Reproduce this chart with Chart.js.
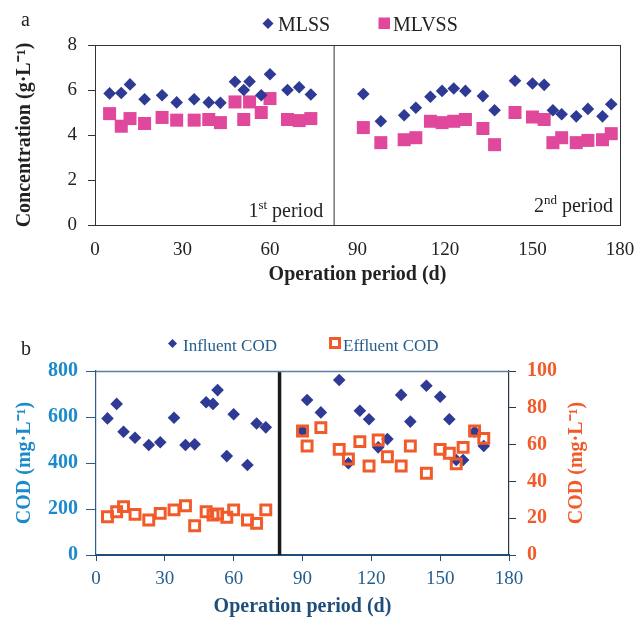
<!DOCTYPE html>
<html>
<head>
<meta charset="utf-8">
<script src="https://cdn.jsdelivr.net/npm/chart.js@4.4.1/dist/chart.umd.min.js"></script>
<style>
  html, body { margin: 0; padding: 0; background: #fff; }
  #wrap { position: relative; width: 637px; height: 620px; }
  #chartA { position: absolute; left: 0; top: 0; }
  #chartB { position: absolute; left: 0; top: 300px; }
</style>
</head>
<body>
<div id="wrap">
  <canvas id="chartA" width="637" height="300"></canvas>
  <canvas id="chartB" width="637" height="320"></canvas>
</div>
<script>
// (a) MLSS / MLVSS, g/L
const daysA = [5, 9, 12, 17, 23, 28, 34, 39, 43, 48, 51, 53, 57, 60, 66, 70, 74,
  92, 98, 106, 110, 115, 119, 123, 127, 133, 137, 144, 150, 154, 157, 160, 165, 169, 174, 177];
const mlss = [5.85, 5.87, 6.25, 5.59, 5.77, 5.45, 5.59, 5.45, 5.43, 6.37, 6.0, 6.38, 5.77, 6.7, 6.0, 6.12, 5.8,
  5.82, 4.61, 4.88, 5.21, 5.70, 5.96, 6.07, 5.96, 5.73, 5.10, 6.41, 6.29, 6.23, 5.10, 4.92, 4.83, 5.16, 4.83, 5.37];
const mlvss = [4.95, 4.39, 4.73, 4.51, 4.78, 4.66, 4.66, 4.69, 4.55, 5.47, 4.69, 5.47, 5.0, 5.62, 4.69, 4.64, 4.73,
  4.33, 3.66, 3.79, 3.88, 4.61, 4.55, 4.61, 4.69, 4.29, 3.57, 5.0, 4.80, 4.69, 3.66, 3.88, 3.66, 3.76, 3.79, 4.06];
const dividerA = 82;

// (b) COD, mg/L
const daysB = [5, 9, 12, 17, 23, 28, 34, 39, 43, 48, 51, 53, 57, 60, 66, 70, 74,
  90, 92, 98, 106, 110, 115, 119, 123, 127, 133, 137, 144, 150, 154, 157, 160, 165, 169];
const influent = [594, 657, 536, 510, 478, 490, 597, 478, 481, 664, 657, 717, 430, 612, 391, 572, 555,
  539, 674, 620, 761, 399, 627, 590, 468, 504, 696, 580, 736, 688, 590, 413, 413, 536, 474];
const effluent = [20.8, 23.5, 26.3, 22.1, 19.0, 22.6, 24.5, 26.8, 15.9, 23.5, 21.7, 22.3, 20.5, 24.5, 19.0, 17.2, 24.5,
  67.4, 59.2, 69.2, 57.4, 52.2, 61.6, 48.4, 62.5, 53.4, 48.4, 59.2, 44.4, 57.4, 55.3, 49.5, 58.5, 67.4, 63.4];
const dividerB = 80;

const SERIF = '"Liberation Serif", "Times New Roman", serif';
const NAVY = '#2E3A94';
const PINK = '#E0489B';
const ORANGE = '#F15A29';
const BLUE = '#1B8ACB';
const DARKBLUE = '#235D8C';

function toPoints(xs, ys) {
  return xs.map((x, i) => ({ x: x, y: ys[i] }));
}

// text with a superscript part, e.g. 1st
function drawSupText(ctx, parts, xRight, baseline, size, color) {
  const big = size + 'px ' + SERIF;
  const small = Math.round(size * 0.65) + 'px ' + SERIF;
  let total = 0;
  parts.forEach(p => { ctx.font = p[1] ? small : big; total += ctx.measureText(p[0]).width; });
  let x = xRight - total;
  ctx.fillStyle = color;
  ctx.textAlign = 'left';
  ctx.textBaseline = 'alphabetic';
  parts.forEach(p => {
    ctx.font = p[1] ? small : big;
    ctx.fillText(p[0], x, p[1] ? baseline - size * 0.38 : baseline);
    x += ctx.measureText(p[0]).width;
  });
}

function diamond(ctx, x, y, r, color) {
  ctx.beginPath();
  ctx.moveTo(x, y - r); ctx.lineTo(x + r, y); ctx.lineTo(x, y + r); ctx.lineTo(x - r, y);
  ctx.closePath();
  ctx.fillStyle = color;
  ctx.fill();
}

const decoA = {
  id: 'decoA',
  afterDraw(chart) {
    const ctx = chart.ctx;
    const a = chart.chartArea;
    const xs = chart.scales.x;
    ctx.save();
    // frame
    ctx.strokeStyle = '#333';
    ctx.lineWidth = 1;
    ctx.strokeRect(Math.round(a.left) + 0.5, Math.round(a.top) + 0.5, a.right - a.left, a.bottom - a.top);
    // panel letter
    ctx.fillStyle = '#222';
    ctx.font = '20px ' + SERIF;
    ctx.textAlign = 'left';
    ctx.textBaseline = 'alphabetic';
    ctx.fillText('a', 21, 26);
    // legend
    diamond(ctx, 268, 23.5, 5.5, NAVY);
    ctx.fillStyle = '#222';
    ctx.fillText('MLSS', 278, 31);
    ctx.fillStyle = PINK;
    ctx.fillRect(378.5, 17.5, 11.5, 11.5);
    ctx.fillStyle = '#222';
    ctx.fillText('MLVSS', 393, 31);
    // period labels
    drawSupText(ctx, [['1', false], ['st', true], [' period', false]], xs.getPixelForValue(dividerA) - 11, a.bottom - 8, 20, '#222');
    drawSupText(ctx, [['2', false], ['nd', true], [' period', false]], a.right - 7, a.bottom - 13, 20, '#222');
    ctx.restore();
  }
};

const decoB = {
  id: 'decoB',
  afterDraw(chart) {
    const ctx = chart.ctx;
    const a = chart.chartArea;
    ctx.save();
    // top frame line
    ctx.strokeStyle = '#5B7FA6';
    ctx.lineWidth = 1.5;
    ctx.beginPath();
    ctx.moveTo(a.left, a.top + 0.5);
    ctx.lineTo(a.right, a.top + 0.5);
    ctx.stroke();
    // x axis line runs a little past both y axes
    ctx.strokeStyle = '#1F4E79';
    ctx.lineWidth = 1.2;
    ctx.beginPath();
    ctx.moveTo(a.left - 6, a.bottom + 0.5);
    ctx.lineTo(a.right + 6, a.bottom + 0.5);
    ctx.stroke();
    // panel letter
    ctx.fillStyle = '#222';
    ctx.font = '20px ' + SERIF;
    ctx.textAlign = 'left';
    ctx.textBaseline = 'alphabetic';
    ctx.fillText('b', 21, 55);
    // legend
    ctx.font = '17px ' + SERIF;
    diamond(ctx, 172.5, 43.5, 4.5, NAVY);
    ctx.fillStyle = DARKBLUE;
    ctx.fillText('Influent COD', 183, 51);
    ctx.strokeStyle = ORANGE;
    ctx.lineWidth = 3;
    ctx.strokeRect(330.5, 38.5, 9, 9);
    ctx.fillStyle = DARKBLUE;
    ctx.fillText('Effluent COD', 343, 51);
    // right axis title, reads bottom to top like the left one
    ctx.translate(577, (a.top + a.bottom) / 2);
    ctx.rotate(-Math.PI / 2);
    ctx.font = 'bold 20px ' + SERIF;
    ctx.fillStyle = ORANGE;
    ctx.textAlign = 'center';
    ctx.textBaseline = 'middle';
    ctx.fillText('COD (mg·L⁻¹)', 0, 0);
    ctx.restore();
  }
};

window.onload = function() {
  Chart.defaults.font.family = SERIF;
  Chart.defaults.color = '#222';

  new Chart(document.getElementById('chartA').getContext('2d'), {
    type: 'scatter',
    data: {
      datasets: [
        {
          label: 'MLSS',
          data: toPoints(daysA, mlss),
          pointStyle: 'rectRot',
          pointRadius: 6.3,
          backgroundColor: NAVY,
          borderColor: NAVY,
          borderWidth: 0
        },
        {
          label: 'MLVSS',
          data: toPoints(daysA, mlvss),
          pointStyle: 'rect',
          pointRadius: 9.2,
          backgroundColor: PINK,
          borderColor: PINK,
          borderWidth: 0
        },
        {
          type: 'line',
          label: 'divider',
          data: [{ x: dividerA, y: 0 }, { x: dividerA, y: 8 }],
          borderColor: '#777',
          borderWidth: 1.5,
          pointRadius: 0
        }
      ]
    },
    options: {
      responsive: false,
      animation: false,
      layout: { padding: { top: 45, right: 17, bottom: 0, left: 0 } },
      plugins: { legend: { display: false }, tooltip: { enabled: false } },
      scales: {
        x: {
          type: 'linear',
          min: 0, max: 180,
          // invisible tick marks push the labels down without widening the right edge
          ticks: { stepSize: 30, font: { size: 19 }, color: '#222', padding: 0 },
          grid: { drawOnChartArea: false, drawTicks: true, tickLength: 14, color: 'rgba(0,0,0,0)' },
          border: { color: '#333', width: 1 },
          title: { display: true, text: 'Operation period (d)', font: { size: 20, weight: 'bold' }, color: '#222', padding: { top: 0, bottom: 13 } },
          afterFit: s => { s.height = 75; }
        },
        y: {
          min: 0, max: 8,
          ticks: { stepSize: 2, font: { size: 19 }, color: '#222', padding: 11 },
          grid: { drawOnChartArea: false, tickLength: 7, color: '#333' },
          border: { color: '#333', width: 1 },
          title: { display: true, text: 'Concentration (g·L⁻¹)', font: { size: 20, weight: 'bold' }, color: '#222', padding: { top: 13, bottom: 0 } },
          afterFit: s => { s.width = 95; }
        }
      }
    },
    plugins: [decoA]
  });

  new Chart(document.getElementById('chartB').getContext('2d'), {
    type: 'scatter',
    data: {
      datasets: [
        {
          label: 'Effluent COD',
          data: toPoints(daysB, effluent),
          yAxisID: 'y2',
          pointStyle: 'rect',
          pointRadius: 7,
          backgroundColor: 'rgba(0,0,0,0)',
          borderColor: ORANGE,
          borderWidth: 3
        },
        {
          label: 'Influent COD',
          data: toPoints(daysB, influent),
          yAxisID: 'y',
          pointStyle: 'rectRot',
          pointRadius: 6.3,
          backgroundColor: NAVY,
          borderColor: NAVY,
          borderWidth: 0
        },
        {
          type: 'line',
          label: 'divider',
          data: [{ x: dividerB, y: 0 }, { x: dividerB, y: 800 }],
          yAxisID: 'y',
          borderColor: '#1a1a1a',
          borderWidth: 3.5,
          pointRadius: 0
        }
      ]
    },
    options: {
      responsive: false,
      animation: false,
      layout: { padding: { top: 71, right: 0, bottom: 0, left: 0 } },
      plugins: { legend: { display: false }, tooltip: { enabled: false } },
      scales: {
        x: {
          type: 'linear',
          min: 0, max: 180,
          ticks: { stepSize: 30, font: { size: 19 }, color: DARKBLUE, padding: 7 },
          grid: { drawOnChartArea: false, tickLength: 6, color: '#1F4E79' },
          border: { color: '#1F4E79', width: 1.2 },
          title: { display: true, text: 'Operation period (d)', font: { size: 20, weight: 'bold' }, color: '#1F4E79', padding: { top: 0, bottom: 1 } },
          afterFit: s => { s.height = 65; }
        },
        y: {
          position: 'left',
          min: 0, max: 800,
          ticks: { stepSize: 200, font: { size: 20, weight: 'bold' }, color: BLUE, padding: 8 },
          grid: { drawOnChartArea: false, tickLength: 10, color: '#2D5B8A' },
          border: { color: '#2D5B8A', width: 1.2 },
          title: { display: true, text: 'COD (mg·L⁻¹)', font: { size: 20, weight: 'bold' }, color: BLUE, padding: { top: 13, bottom: 0 } },
          afterFit: s => { s.width = 96; }
        },
        y2: {
          position: 'right',
          min: 0, max: 100,
          ticks: { stepSize: 20, font: { size: 20, weight: 'bold' }, color: ORANGE, padding: 11 },
          grid: { drawOnChartArea: false, tickLength: 7, color: '#2a3440' },
          border: { color: '#2a3440', width: 1.2 },
          afterFit: s => { s.width = 128; }
        }
      }
    },
    plugins: [decoB]
  });
};
</script>
</body>
</html>
